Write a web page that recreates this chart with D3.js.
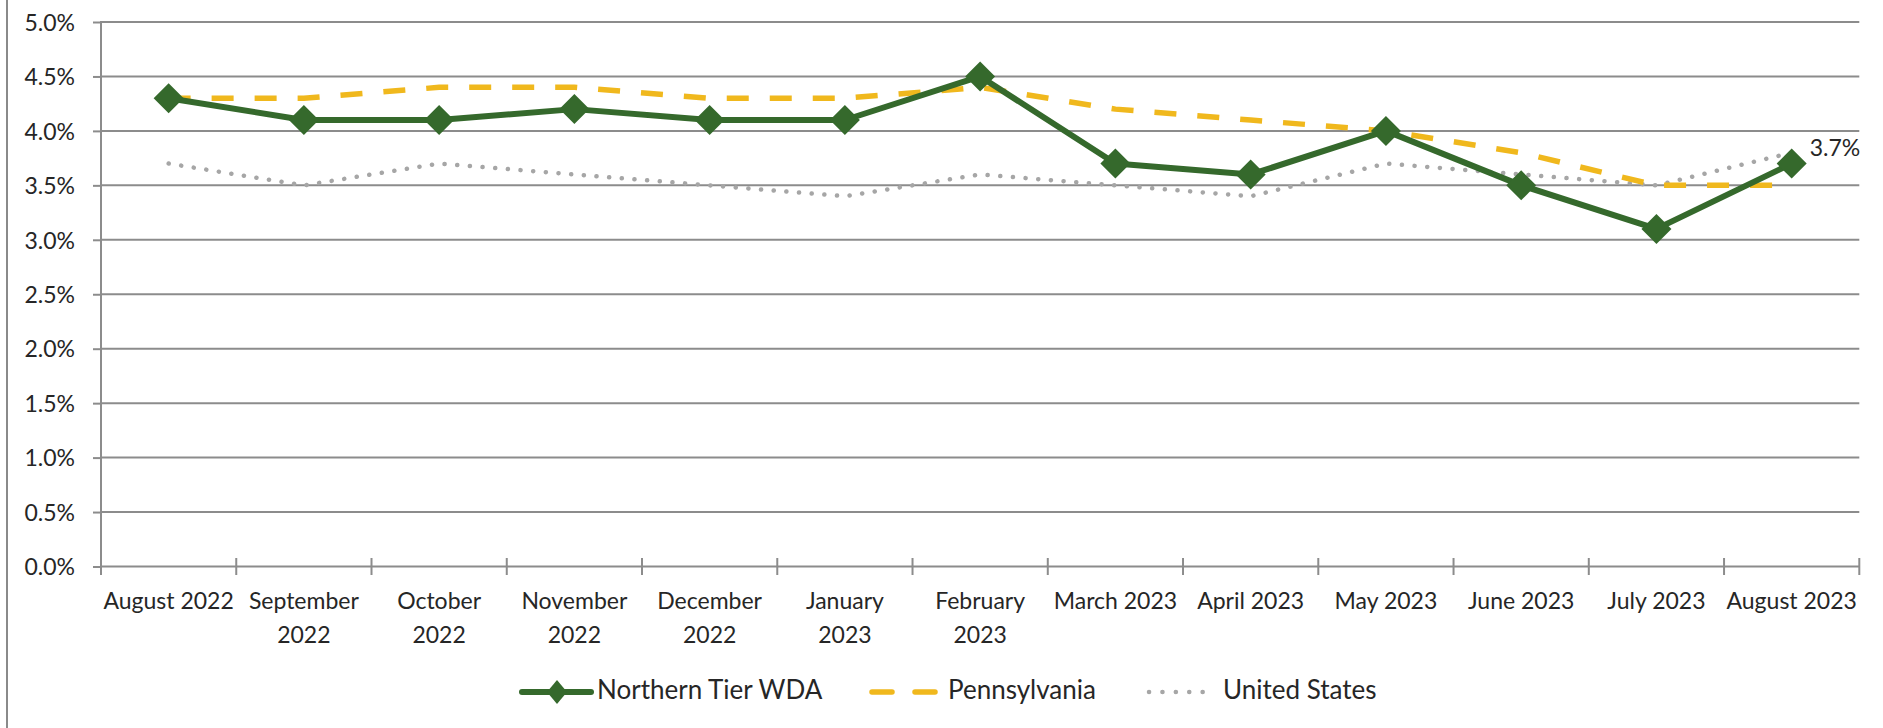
<!DOCTYPE html>
<html><head><meta charset="utf-8">
<script src="https://cdn.jsdelivr.net/npm/d3@7"></script>
<style>
body{margin:0;background:#fff}
svg text{font-family:Lato,"Open Sans",sans-serif;fill:#262626}
</style>
</head><body>
<svg id="chart" width="1883" height="728"></svg>
<script>
const categories = ["August 2022","September 2022","October 2022","November 2022","December 2022","January 2023","February 2023","March 2023","April 2023","May 2023","June 2023","July 2023","August 2023"];
const tickLabels = [["August 2022"],["September","2022"],["October","2022"],["November","2022"],["December","2022"],["January","2023"],["February","2023"],["March 2023"],["April 2023"],["May 2023"],["June 2023"],["July 2023"],["August 2023"]];
const northernTier = [4.3,4.1,4.1,4.2,4.1,4.1,4.5,3.7,3.6,4.0,3.5,3.1,3.7];
const pennsylvania = [4.3,4.3,4.4,4.4,4.3,4.3,4.4,4.2,4.1,4.0,3.8,3.5,3.5];
const unitedStates = [3.7,3.5,3.7,3.6,3.5,3.4,3.6,3.5,3.4,3.7,3.6,3.5,3.8];
const yTicks = [0,0.5,1.0,1.5,2.0,2.5,3.0,3.5,4.0,4.5,5.0];
const seriesNames = ["Northern Tier WDA","Pennsylvania","United States"];

(function(){
const GREEN = "#35692c", GOLD = "#f0b81d", GREY = "#a6a6a6", AXIS = "#8c8c8c";
const svg = d3.select("#chart");

svg.append("line").attr("x1",7).attr("x2",7).attr("y1",0).attr("y2",728)
  .attr("stroke","#8a8a8a").attr("stroke-width",2);

const pL = 101, pR = 1859.3, pT = 22, pB = 566.5;
const x = d3.scaleBand().domain(categories).range([pL,pR]).padding(0);
const y = d3.scaleLinear().domain([0,5]).range([pB,pT]);
const cx = c => x(c) + x.bandwidth()/2;

svg.append("g").selectAll("line").data(yTicks.filter(v=>v>0)).join("line")
  .attr("x1",pL).attr("x2",pR).attr("y1",d=>y(d)).attr("y2",d=>y(d))
  .attr("stroke",AXIS).attr("stroke-width",2);

const yAxis = svg.append("g").attr("transform",`translate(${pL},0)`)
  .call(d3.axisLeft(y).tickValues(yTicks).tickFormat(d=>d.toFixed(1)+"%").tickSize(8).tickPadding(18));
yAxis.select(".domain").remove();
yAxis.selectAll(".tick line").attr("stroke",AXIS).attr("stroke-width",2);
yAxis.selectAll(".tick text").style("font-size","23px").style("font-family","Lato").attr("fill","#262626").attr("dy","0.36em");
svg.append("line").attr("x1",pL).attr("x2",pL).attr("y1",pT-1).attr("y2",pB+8.5)
  .attr("stroke",AXIS).attr("stroke-width",2);

svg.append("line").attr("x1",pL).attr("x2",pR).attr("y1",pB).attr("y2",pB)
  .attr("stroke",AXIS).attr("stroke-width",2);
const bounds = categories.map(c=>x(c)).concat([pR]);
svg.append("g").selectAll("line").data(bounds.slice(1)).join("line")
  .attr("x1",d=>d).attr("x2",d=>d).attr("y1",pB-8.5).attr("y2",pB+8.5)
  .attr("stroke",AXIS).attr("stroke-width",2);
const xl = svg.append("g").selectAll("text").data(categories).join("text")
  .attr("text-anchor","middle").style("font-size","23px")
  .attr("x",d=>cx(d)).attr("y",609);
xl.each(function(d,i){
  const t = d3.select(this);
  tickLabels[i].forEach((s,j)=>{
    t.append("tspan").attr("x",cx(d)).attr("y",609+j*34).text(s);
  });
});

const line = d3.line().x((d,i)=>cx(categories[i])).y(d=>y(d));

svg.append("path").datum(unitedStates).attr("d",line).attr("fill","none")
  .attr("stroke",GREY).attr("stroke-width",4.5).attr("stroke-linecap","round")
  .attr("stroke-dasharray","0.1,12.6");
svg.append("path").datum(pennsylvania).attr("d",line).attr("fill","none")
  .attr("stroke",GOLD).attr("stroke-width",5.5).attr("stroke-dasharray","22,21");
svg.append("path").datum(northernTier).attr("d",line).attr("fill","none")
  .attr("stroke",GREEN).attr("stroke-width",6).attr("stroke-linejoin","round");
const diamond = (rx,ry) => `M0,${-ry}L${rx},0L0,${ry}L${-rx},0Z`;
svg.append("g").selectAll("path").data(northernTier).join("path")
  .attr("d",diamond(15,15))
  .attr("transform",(d,i)=>`translate(${cx(categories[i])},${y(d)})`)
  .attr("fill",GREEN);

const last = northernTier.length-1;
svg.append("text").attr("x",cx(categories[last])+18).attr("y",y(northernTier[last])-8)
  .style("font-size","23px").text(northernTier[last].toFixed(1)+"%");

const ly = 692;
const lg = svg.append("g");
lg.append("line").attr("x1",522).attr("x2",591).attr("y1",ly).attr("y2",ly)
  .attr("stroke",GREEN).attr("stroke-width",6).attr("stroke-linecap","round");
lg.append("path").attr("d",diamond(10,12)).attr("transform",`translate(557,${ly})`).attr("fill",GREEN);
lg.append("text").attr("x",597).attr("y",ly+7).style("font-size","26px").attr("fill","#1e1e1e").text(seriesNames[0]);
lg.append("line").attr("x1",872).attr("x2",938).attr("y1",ly).attr("y2",ly)
  .attr("stroke",GOLD).attr("stroke-width",5.5).attr("stroke-linecap","round").attr("stroke-dasharray","20,23");
lg.append("text").attr("x",948).attr("y",ly+7).style("font-size","26px").attr("fill","#1e1e1e").text(seriesNames[1]);
lg.append("line").attr("x1",1149).attr("x2",1216).attr("y1",ly).attr("y2",ly)
  .attr("stroke",GREY).attr("stroke-width",4.5).attr("stroke-linecap","round").attr("stroke-dasharray","0.1,13.3");
lg.append("text").attr("x",1223).attr("y",ly+7).style("font-size","26px").attr("fill","#1e1e1e").text(seriesNames[2]);
})();
</script>
</body></html>
